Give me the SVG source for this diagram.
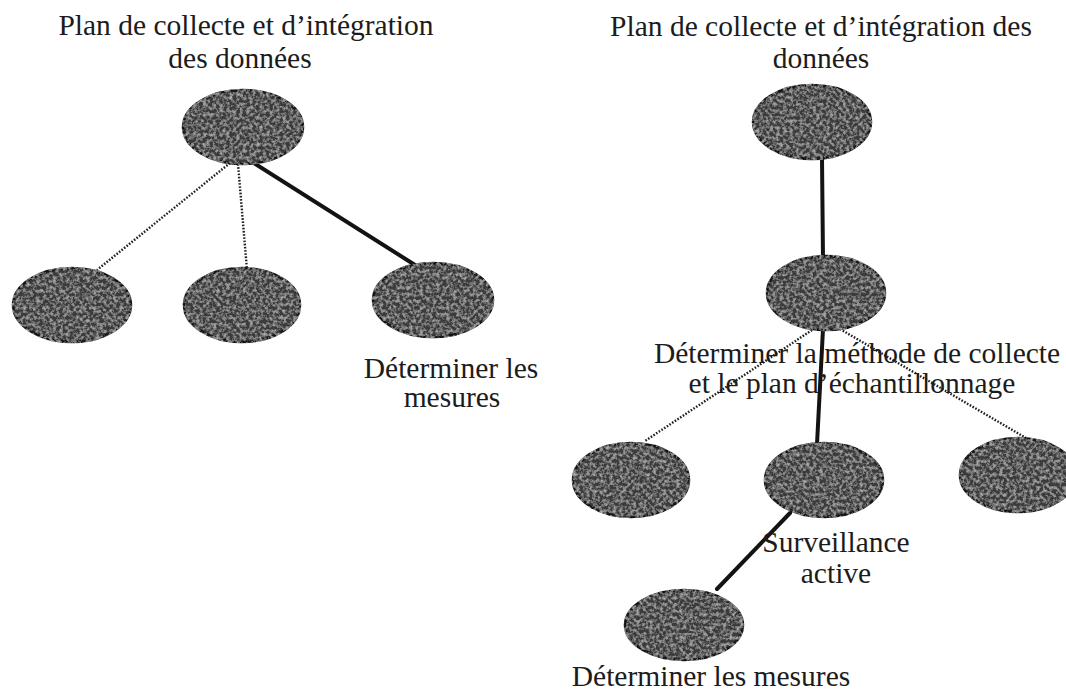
<svg xmlns="http://www.w3.org/2000/svg" width="1066" height="690" viewBox="0 0 1066 690">
<style>
.bg{fill:#ffffff}
.node{fill:#3b3b3b;stroke:#181818;stroke-width:2.5}
.lbl{font-family:"Liberation Serif","Times New Roman",serif;font-size:29.5px;fill:#1c1c1c;text-anchor:middle}
.solid{stroke:#131313;stroke-width:4;fill:none;stroke-linecap:round}
.dot{stroke:#202020;stroke-width:2.4;fill:none;stroke-dasharray:1.6 1.6}
</style>
<defs>
<filter id="speckle" x="-5%" y="-5%" width="110%" height="110%">
<feTurbulence type="fractalNoise" baseFrequency="0.3" numOctaves="3" seed="7" result="n"/>
<feColorMatrix in="n" type="matrix" values="0 0 0 0 0.42  0 0 0 0 0.42  0 0 0 0 0.42  2.4 0 0 0 -1.0" result="s"/>
<feComposite in="s" in2="SourceGraphic" operator="in" result="t"/>
<feMerge><feMergeNode in="SourceGraphic"/><feMergeNode in="t"/></feMerge>
</filter>
</defs>
<rect class="bg" x="0" y="0" width="1066" height="690"/>

<g id="connectors">
<line class="dot" x1="230" y1="163" x2="97" y2="270"/>
<line class="dot" x1="238" y1="164" x2="247" y2="270"/>
<line class="solid" x1="249" y1="160" x2="415" y2="265"/>
<line class="solid" x1="822" y1="158" x2="823" y2="258"/>
<line class="dot" x1="812" y1="330" x2="645" y2="441"/>
<line class="dot" x1="840" y1="329" x2="1026" y2="438"/>
<line class="solid" x1="823" y1="329" x2="817" y2="444"/>
<line class="solid" x1="790" y1="513" x2="717" y2="589"/>
</g>

<g id="left-root">
<ellipse class="node" filter="url(#speckle)" cx="243" cy="127" rx="60" ry="37"/>
<text class="lbl" x="246" y="35">Plan de collecte et d’intégration</text>
<text class="lbl" x="240" y="68">des données</text>
</g>
<g id="left-child-1">
<ellipse class="node" filter="url(#speckle)" cx="72" cy="305" rx="59" ry="37"/>
</g>
<g id="left-child-2">
<ellipse class="node" filter="url(#speckle)" cx="242" cy="305" rx="58" ry="37"/>
</g>
<g id="left-child-3">
<ellipse class="node" filter="url(#speckle)" cx="433" cy="300" rx="60" ry="37"/>
<text class="lbl" x="451" y="378">Déterminer les</text>
<text class="lbl" x="452" y="407">mesures</text>
</g>

<g id="right-root">
<ellipse class="node" filter="url(#speckle)" cx="812" cy="122" rx="59" ry="37"/>
<text class="lbl" x="821" y="36">Plan de collecte et d’intégration des</text>
<text class="lbl" x="821" y="68">données</text>
</g>
<g id="right-mid">
<ellipse class="node" filter="url(#speckle)" cx="826" cy="293" rx="59" ry="37"/>
<text class="lbl" x="857" y="363">Déterminer la méthode de collecte</text>
<text class="lbl" x="852" y="393">et le plan d’échantillonnage</text>
</g>
<g id="right-child-1">
<ellipse class="node" filter="url(#speckle)" cx="631" cy="480" rx="58" ry="37"/>
</g>
<g id="right-child-2">
<ellipse class="node" filter="url(#speckle)" cx="824" cy="480" rx="59" ry="37"/>
<text class="lbl" x="836" y="552">Surveillance</text>
<text class="lbl" x="836" y="583">active</text>
</g>
<g id="right-child-3">
<ellipse class="node" filter="url(#speckle)" cx="1018" cy="475" rx="58" ry="37"/>
</g>
<g id="right-leaf">
<ellipse class="node" filter="url(#speckle)" cx="684" cy="625" rx="59" ry="35"/>
<text class="lbl" x="711" y="686">Déterminer les mesures</text>
</g>
</svg>
